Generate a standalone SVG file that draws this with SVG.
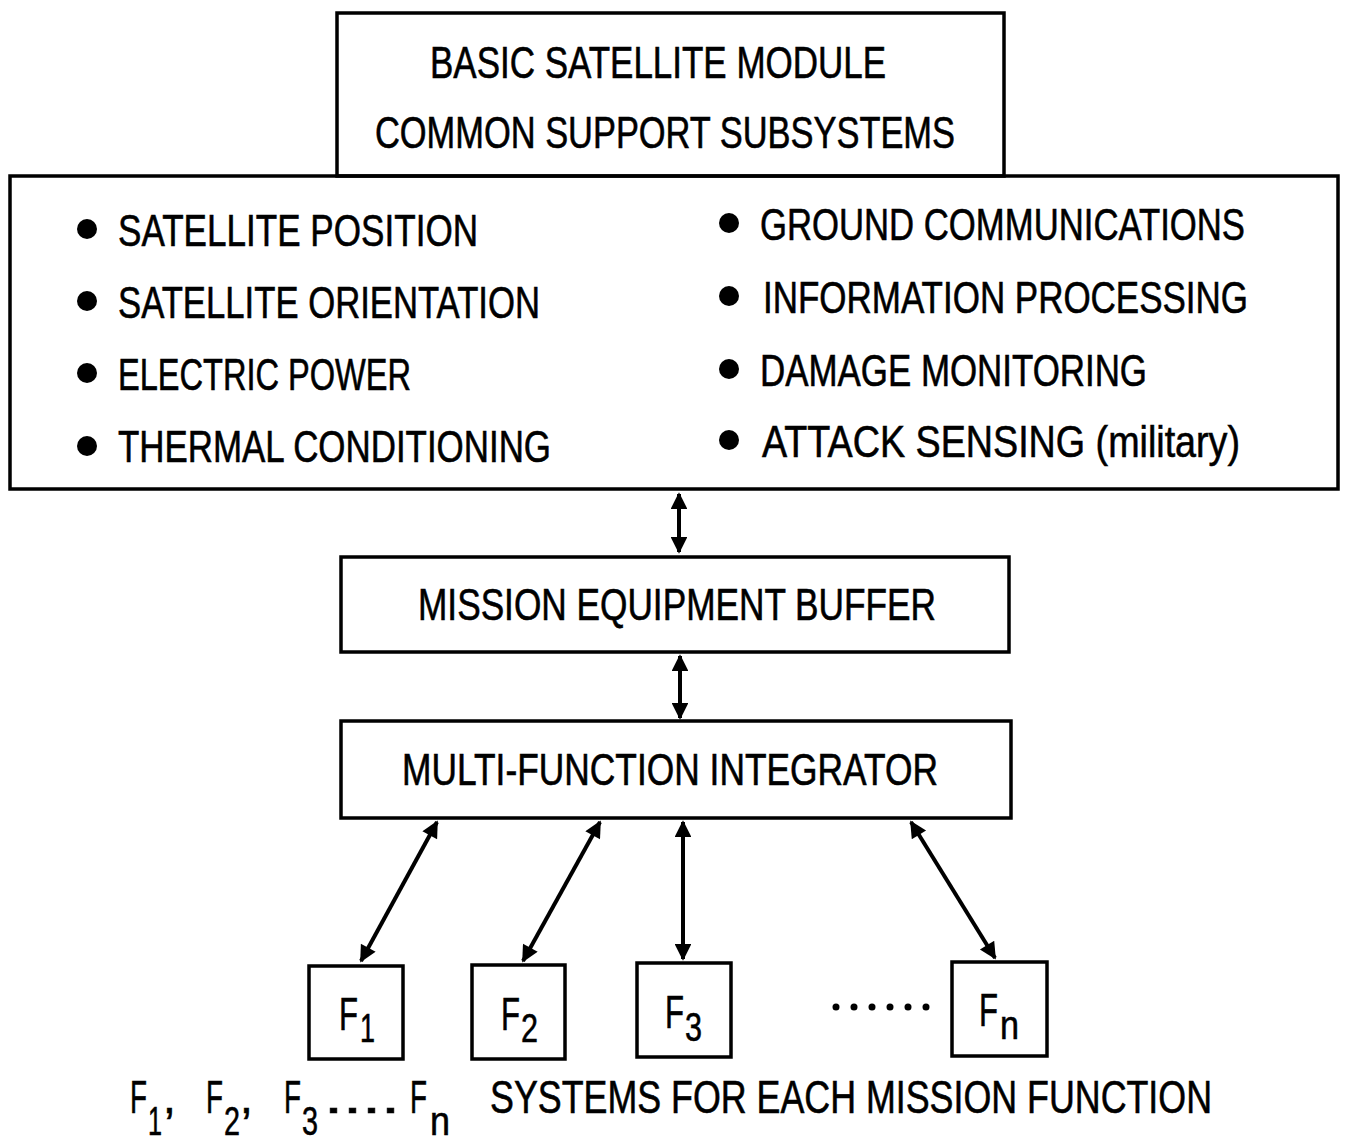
<svg xmlns="http://www.w3.org/2000/svg" width="1346" height="1143" viewBox="0 0 1346 1143">
<defs>
<style>
.box{fill:none;stroke:#000;stroke-width:3.5}
.t{font-family:"Liberation Sans",Arial,sans-serif;font-size:44px;fill:#000;stroke:#000;stroke-width:0.6}
.f{font-family:"Liberation Sans",Arial,sans-serif;font-size:46px;fill:#000;stroke:#000;stroke-width:0.6}
.s{font-size:40px}
.ln{stroke:#000;stroke-width:4;fill:none;marker-start:url(#ah);marker-end:url(#ah)}
</style>
<marker id="ah" viewBox="0 0 10 10" refX="9" refY="5" markerWidth="6.5" markerHeight="4.2" markerUnits="strokeWidth" orient="auto-start-reverse">
<path d="M0,0 L10,5 L0,10 Z" fill="#000"/>
</marker>
</defs>
<rect width="1346" height="1143" fill="#fff"/>

<g id="basic-module">
<rect class="box" x="337" y="13" width="667" height="163"/>
<text class="t" x="430" y="78" textLength="456" lengthAdjust="spacingAndGlyphs">BASIC SATELLITE MODULE</text>
<text class="t" x="375" y="148" textLength="580" lengthAdjust="spacingAndGlyphs">COMMON SUPPORT SUBSYSTEMS</text>
</g>

<g id="subsystems">
<rect class="box" x="10" y="176" width="1328" height="313"/>
<circle cx="87" cy="229" r="10"/>
<circle cx="87" cy="301" r="10"/>
<circle cx="87" cy="373" r="10"/>
<circle cx="87" cy="446" r="10"/>
<text class="t" x="118" y="246" textLength="360" lengthAdjust="spacingAndGlyphs">SATELLITE POSITION</text>
<text class="t" x="118" y="318" textLength="422" lengthAdjust="spacingAndGlyphs">SATELLITE ORIENTATION</text>
<text class="t" x="118" y="390" textLength="293" lengthAdjust="spacingAndGlyphs">ELECTRIC POWER</text>
<text class="t" x="118" y="462" textLength="433" lengthAdjust="spacingAndGlyphs">THERMAL CONDITIONING</text>
<circle cx="729" cy="223" r="10"/>
<circle cx="729" cy="296" r="10"/>
<circle cx="729" cy="369" r="10"/>
<circle cx="729" cy="440" r="10"/>
<text class="t" x="760" y="240" textLength="485" lengthAdjust="spacingAndGlyphs">GROUND COMMUNICATIONS</text>
<text class="t" x="763" y="313" textLength="485" lengthAdjust="spacingAndGlyphs">INFORMATION PROCESSING</text>
<text class="t" x="760" y="386" textLength="387" lengthAdjust="spacingAndGlyphs">DAMAGE MONITORING</text>
<text class="t" x="762" y="457" textLength="478" lengthAdjust="spacingAndGlyphs">ATTACK SENSING (military)</text>
</g>

<g id="buffer">
<rect class="box" x="341" y="557" width="668" height="95"/>
<text class="t" x="418" y="620" textLength="518" lengthAdjust="spacingAndGlyphs">MISSION EQUIPMENT BUFFER</text>
</g>

<g id="integrator">
<rect class="box" x="341" y="721" width="670" height="97"/>
<text class="t" x="402" y="785" textLength="536" lengthAdjust="spacingAndGlyphs">MULTI-FUNCTION INTEGRATOR</text>
</g>

<g id="f1">
<rect class="box" x="309" y="966" width="94" height="93"/>
<text class="f" x="339" y="1030"><tspan textLength="19" lengthAdjust="spacingAndGlyphs">F</tspan><tspan class="s" x="360" y="1042" textLength="15" lengthAdjust="spacingAndGlyphs">1</tspan></text>
</g>
<g id="f2">
<rect class="box" x="472" y="965" width="93" height="94"/>
<text class="f" x="501" y="1030"><tspan textLength="19" lengthAdjust="spacingAndGlyphs">F</tspan><tspan class="s" x="521" y="1042" textLength="17" lengthAdjust="spacingAndGlyphs">2</tspan></text>
</g>
<g id="f3">
<rect class="box" x="637" y="963" width="94" height="94"/>
<text class="f" x="665" y="1028"><tspan textLength="19" lengthAdjust="spacingAndGlyphs">F</tspan><tspan class="s" x="685" y="1041" textLength="17" lengthAdjust="spacingAndGlyphs">3</tspan></text>
</g>
<g id="fn">
<rect class="box" x="952" y="962" width="95" height="94"/>
<text class="f" x="979" y="1026"><tspan textLength="19" lengthAdjust="spacingAndGlyphs">F</tspan><tspan class="s" x="1000" y="1039" textLength="19" lengthAdjust="spacingAndGlyphs">n</tspan></text>
</g>

<g id="ellipsis">
<circle cx="836" cy="1007" r="3.5"/>
<circle cx="854" cy="1007" r="3.5"/>
<circle cx="872" cy="1007" r="3.5"/>
<circle cx="890" cy="1007" r="3.5"/>
<circle cx="908" cy="1007" r="3.5"/>
<circle cx="926" cy="1007" r="3.5"/>
</g>

<g id="connectors">
<line class="ln" x1="679" y1="494" x2="679" y2="552"/>
<line class="ln" x1="680" y1="656" x2="680" y2="718"/>
<line class="ln" x1="437" y1="822" x2="361" y2="961"/>
<line class="ln" x1="600" y1="822" x2="523" y2="961"/>
<line class="ln" x1="683" y1="822" x2="683" y2="959"/>
<line class="ln" x1="911" y1="822" x2="995" y2="958"/>
</g>

<g id="caption">
<text class="f" x="130" y="1113"><tspan textLength="17" lengthAdjust="spacingAndGlyphs">F</tspan><tspan class="s" x="148" y="1135" textLength="14" lengthAdjust="spacingAndGlyphs">1</tspan><tspan x="163" y="1113">,</tspan><tspan x="206" textLength="17" lengthAdjust="spacingAndGlyphs">F</tspan><tspan class="s" x="224" y="1135" textLength="16" lengthAdjust="spacingAndGlyphs">2</tspan><tspan x="240" y="1113">,</tspan><tspan x="284" textLength="17" lengthAdjust="spacingAndGlyphs">F</tspan><tspan class="s" x="302" y="1135" textLength="16" lengthAdjust="spacingAndGlyphs">3</tspan><tspan x="324" y="1113" textLength="76" lengthAdjust="spacingAndGlyphs">....</tspan><tspan x="410" textLength="17" lengthAdjust="spacingAndGlyphs">F</tspan><tspan class="s" x="430" y="1135" textLength="20" lengthAdjust="spacingAndGlyphs">n</tspan><tspan x="490" y="1113" textLength="722" lengthAdjust="spacingAndGlyphs">SYSTEMS FOR EACH MISSION FUNCTION</tspan></text>
</g>
</svg>
